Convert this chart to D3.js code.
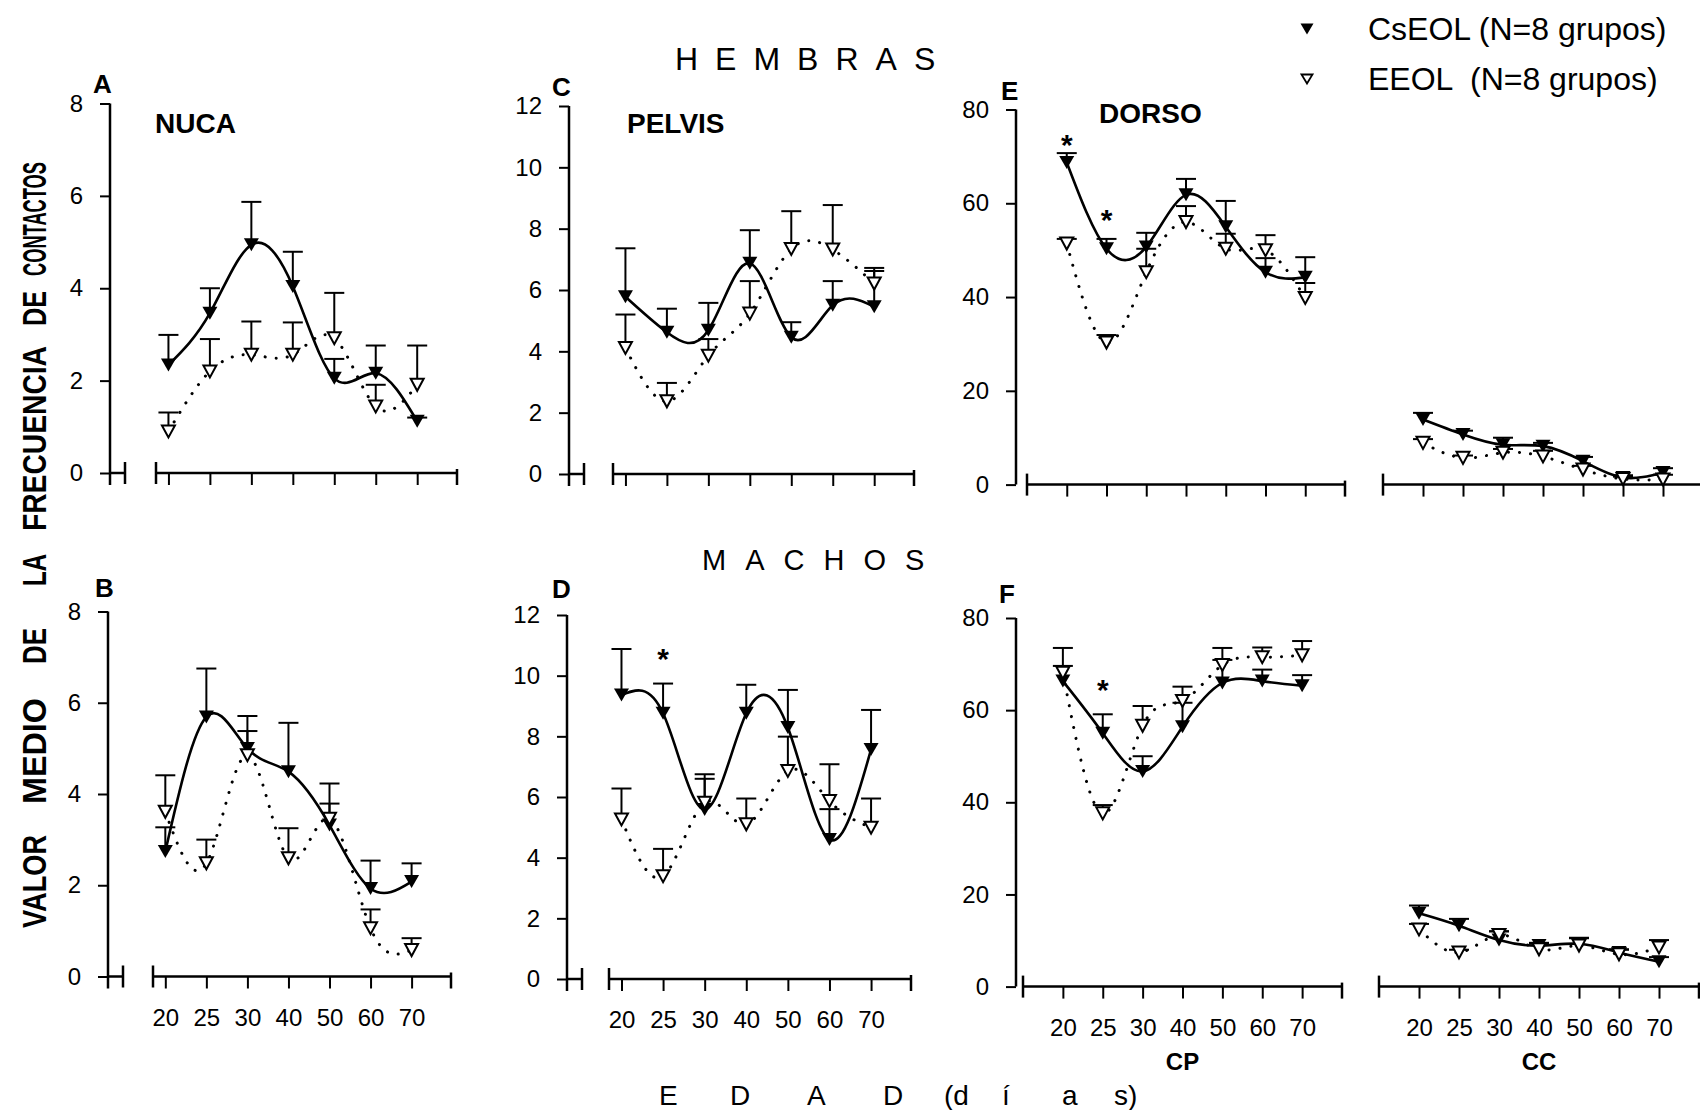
<!DOCTYPE html>
<html>
<head>
<meta charset="utf-8">
<script src="https://cdn.jsdelivr.net/npm/d3@7"></script>
<style>
  body { margin: 0; background: #fff; }
  svg { display: block; }
  text { font-family: "Liberation Sans", Arial, sans-serif; fill: #000; }
</style>
</head>
<body>
<svg id="chart" width="1700" height="1110"></svg>
<script>
// ---- categories and tick values ----
const ages = ["20", "25", "30", "40", "50", "60", "70"];
const ticksNuca = [0, 2, 4, 6, 8];
const ticksPelvis = [0, 2, 4, 6, 8, 10, 12];
const ticksDorso = [0, 20, 40, 60, 80];

// ---- HEMBRAS: means and SEM ----
const hNucaCs   = [2.34, 3.46, 4.94, 4.04, 2.05, 2.16, 1.12];
const hNucaCsSE = [0.65, 0.54, 0.93, 0.75, 0.42, 0.60, 0.08];
const hNucaEe   = [0.90, 2.20, 2.56, 2.56, 2.92, 1.44, 1.91];
const hNucaEeSE = [0.41, 0.70, 0.72, 0.70, 0.98, 0.47, 0.85];

const hPelvisCs   = [5.78, 4.62, 4.69, 6.87, 4.46, 5.50, 5.45];
const hPelvisCsSE = [1.58, 0.77, 0.89, 1.08, 0.49, 0.79, 1.17];
const hPelvisEe   = [4.11, 2.37, 3.86, 5.23, 7.34, 7.32, 6.21];
const hPelvisEeSE = [1.09, 0.60, 0.54, 1.06, 1.23, 1.45, 0.51];

const hDorsoCs   = [68.7, 50.3, 50.7, 61.8, 55.0, 45.3, 44.2];
const hDorsoCsSE = [2.0, 2.1, 3.0, 3.4, 5.5, 3.0, 4.3];
const hDorsoEe   = [51.4, 30.3, 45.3, 56.0, 50.3, 50.0, 39.8];
const hDorsoEeSE = [1.0, 1.6, 5.0, 3.4, 3.2, 3.2, 3.2];

const hDorsoCcCs   = [13.9, 10.7, 8.5, 8.2, 5.0, 1.5, 2.6];
const hDorsoCcCsSE = [1.4, 0.8, 1.5, 0.7, 0.9, 0.5, 0.9];
const hDorsoCcEe   = [8.9, 5.7, 6.8, 6.0, 3.2, 1.2, 1.1];
const hDorsoCcEeSE = [0.8, 0.5, 0.8, 1.2, 0.8, 0.5, 1.0];

// ---- MACHOS: means and SEM ----
const mNucaCs   = [2.74, 5.69, 5.00, 4.49, 3.32, 1.93, 2.08];
const mNucaCsSE = [0.53, 1.06, 0.71, 1.07, 0.91, 0.61, 0.40];
const mNucaEe   = [3.61, 2.48, 4.85, 2.59, 3.46, 1.06, 0.58];
const mNucaEeSE = [0.80, 0.52, 0.53, 0.66, 0.33, 0.41, 0.26];

const mPelvisCs   = [9.36, 8.76, 5.59, 8.76, 8.29, 4.60, 7.57];
const mPelvisCsSE = [1.52, 0.98, 1.16, 0.94, 1.24, 1.00, 1.30];
const mPelvisEe   = [5.26, 3.39, 5.81, 5.10, 6.86, 5.87, 4.99];
const mPelvisEeSE = [1.02, 0.90, 0.79, 0.85, 1.13, 1.21, 0.96];

const mDorsoCs   = [66.3, 55.0, 46.7, 56.4, 65.9, 66.3, 65.3];
const mDorsoCsSE = [3.3, 4.1, 3.3, 5.2, 5.0, 2.5, 2.3];
const mDorsoEe   = [68.1, 37.6, 56.6, 62.0, 69.8, 71.5, 71.9];
const mDorsoEeSE = [5.4, 1.8, 4.3, 3.1, 3.7, 2.1, 3.1];

const mDorsoCcCs   = [15.9, 13.2, 10.1, 8.9, 9.3, 7.4, 5.4];
const mDorsoCcCsSE = [1.7, 1.5, 1.9, 0.6, 1.3, 0.7, 1.0];
const mDorsoCcEe   = [12.4, 7.4, 11.2, 8.1, 8.9, 7.0, 8.5];
const mDorsoCcEeSE = [1.2, 0.6, 0.8, 1.2, 1.6, 1.0, 1.6];

// significance marks: [age index, level in data units]
const sigHDorso = [[0, 73.5], [1, 57.5]];
const sigMPelvis = [[1, 10.7]];
const sigMDorso = [[1, 65.4]];

// ---- legend and label texts ----
const legendLabels = ["CsEOL (N=8 grupos)", "EEOL  (N=8 grupos)"];
const yLabelWords = ["VALOR", "MEDIO", "DE", "LA", "FRECUENCIA", "DE", "CONTACTOS"];

// ---------------------------------------------------------------
const svg = d3.select("#chart");
const FONT = '"Liberation Sans", Arial, sans-serif';

const triDown = (w, h) => `M${-w / 2},${-h / 2}L${w / 2},${-h / 2}L0,${h / 2}Z`;

function drawPanel(p) {
  const g = svg.append("g");
  const y = d3.scaleLinear().domain([0, p.yMax]).range([p.y0, p.yTop]);
  const x = d3.scaleLinear().domain(p.dom).range([p.xs, p.xe]);
  const idx = d3.range(ages.length);

  // y axis
  if (p.yTicks) {
    const ay = g.append("g")
      .attr("transform", `translate(${p.ax},0)`)
      .call(d3.axisLeft(y).tickValues(p.yTicks).tickSize(10).tickPadding(17).tickSizeOuter(0))
      .attr("font-size", 24).attr("font-family", FONT);
    ay.select(".domain").remove();
    ay.selectAll(".tick line").attr("stroke-width", 2);
    g.append("line")
      .attr("x1", p.ax).attr("x2", p.ax)
      .attr("y1", y(p.yMax)).attr("y2", p.y0 + (p.brk ? 12 : 0))
      .attr("stroke", "#000").attr("stroke-width", 2.5);
    if (p.brk) {
      g.append("line").attr("x1", p.ax).attr("x2", p.ax + 15)
        .attr("y1", p.y0).attr("y2", p.y0).attr("stroke", "#000").attr("stroke-width", 2.5);
      g.append("line").attr("x1", p.ax + 15).attr("x2", p.ax + 15)
        .attr("y1", p.y0 - 11).attr("y2", p.y0 + 11).attr("stroke", "#000").attr("stroke-width", 2.5);
    }
  }

  // x axis
  const ax = g.append("g")
    .attr("transform", `translate(0,${p.y0})`)
    .call(d3.axisBottom(x).tickValues(idx).tickSize(12).tickPadding(20).tickSizeOuter(0)
      .tickFormat(i => (p.showX ? ages[i] : "")))
    .attr("font-size", 24).attr("font-family", FONT);
  ax.select(".domain").remove();
  ax.selectAll(".tick line").attr("stroke-width", 2);
  g.append("line").attr("x1", p.xs).attr("x2", p.xe).attr("y1", p.y0).attr("y2", p.y0)
    .attr("stroke", "#000").attr("stroke-width", 2.5);
  g.append("line").attr("x1", p.xs).attr("x2", p.xs).attr("y1", p.y0 - 11).attr("y2", p.y0 + 11)
    .attr("stroke", "#000").attr("stroke-width", 2.5);
  g.append("line").attr("x1", p.xe).attr("x2", p.xe).attr("y1", p.y0 - 4).attr("y2", p.y0 + 12)
    .attr("stroke", "#000").attr("stroke-width", 2.5);

  if (p.sub) {
    g.append("text").attr("x", x(3)).attr("y", p.y0 + 83)
      .attr("text-anchor", "middle").attr("font-size", 24).attr("font-weight", "bold").text(p.sub);
  }

  // smoothed mean curves
  const line = d3.line().x((d, i) => x(i)).y(d => y(d)).curve(d3.curveNatural);
  g.append("path").attr("d", line(p.ee)).attr("fill", "none").attr("stroke", "#000")
    .attr("stroke-width", 3).attr("stroke-linecap", "round").attr("stroke-dasharray", "0.1 11");
  g.append("path").attr("d", line(p.cs)).attr("fill", "none").attr("stroke", "#000")
    .attr("stroke-width", 2.6);

  // error bars (upper SEM)
  const bars = (vals, se) => {
    const eb = g.append("g").attr("stroke", "#000").attr("stroke-width", 2);
    eb.selectAll("line.v").data(vals).join("line").attr("class", "v")
      .attr("x1", (d, i) => x(i)).attr("x2", (d, i) => x(i))
      .attr("y1", d => y(d)).attr("y2", (d, i) => y(d + se[i]));
    eb.selectAll("line.c").data(vals).join("line").attr("class", "c")
      .attr("x1", (d, i) => x(i) - 10).attr("x2", (d, i) => x(i) + 10)
      .attr("y1", (d, i) => y(d + se[i])).attr("y2", (d, i) => y(d + se[i]));
  };
  bars(p.ee, p.eeSE);
  bars(p.cs, p.csSE);

  // markers
  g.selectAll("path.cs").data(p.cs).join("path").attr("class", "cs")
    .attr("d", triDown(15, 13))
    .attr("transform", (d, i) => `translate(${x(i)},${y(d)})`)
    .attr("fill", "#000");
  g.selectAll("path.ee").data(p.ee).join("path").attr("class", "ee")
    .attr("d", triDown(13, 12))
    .attr("transform", (d, i) => `translate(${x(i)},${y(d)})`)
    .attr("fill", "#fff").attr("stroke", "#000").attr("stroke-width", 2);

  // asterisks
  if (p.sig) {
    g.selectAll("text.sig").data(p.sig).join("text").attr("class", "sig")
      .attr("x", d => x(d[0])).attr("y", d => y(d[1]) + 15)
      .attr("text-anchor", "middle").attr("font-size", 30).attr("font-weight", "bold").text("*");
  }

  if (p.letter) {
    g.append("text").attr("x", p.letter[0]).attr("y", p.letter[1])
      .attr("font-size", 26).attr("font-weight", "bold").text(p.id);
  }
  if (p.title) {
    g.append("text").attr("x", p.title[1]).attr("y", p.title[2])
      .attr("font-size", 28).attr("font-weight", "bold").text(p.title[0]);
  }
}

const panels = [
  { id: "A", cs: hNucaCs, csSE: hNucaCsSE, ee: hNucaEe, eeSE: hNucaEeSE, yTicks: ticksNuca, yMax: 8,
    ax: 110, y0: 473, yTop: 103.5, xs: 156, xe: 457, dom: [-0.3, 6.96], brk: true,
    letter: [93, 93], title: ["NUCA", 155, 133] },
  { id: "C", cs: hPelvisCs, csSE: hPelvisCsSE, ee: hPelvisEe, eeSE: hPelvisEeSE, yTicks: ticksPelvis, yMax: 12,
    ax: 569, y0: 474, yTop: 106, xs: 613, xe: 914, dom: [-0.3, 6.96], brk: true,
    letter: [552, 96], title: ["PELVIS", 627, 133] },
  { id: "E", cs: hDorsoCs, csSE: hDorsoCsSE, ee: hDorsoEe, eeSE: hDorsoEeSE, yTicks: ticksDorso, yMax: 80,
    ax: 1016, y0: 484.6, yTop: 109.5, xs: 1027, xe: 1345, dom: [-1, 7], brk: false,
    sig: sigHDorso, letter: [1001, 100], title: ["DORSO", 1099, 123] },
  { id: "E2", cs: hDorsoCcCs, csSE: hDorsoCcCsSE, ee: hDorsoCcEe, eeSE: hDorsoCcEeSE, yMax: 80,
    y0: 484.6, yTop: 109.5, xs: 1383, xe: 1703, dom: [-1, 7] },
  { id: "B", cs: mNucaCs, csSE: mNucaCsSE, ee: mNucaEe, eeSE: mNucaEeSE, yTicks: ticksNuca, yMax: 8,
    ax: 108, y0: 976.5, yTop: 611.5, xs: 153, xe: 451, dom: [-0.3, 6.96], brk: true, showX: true,
    letter: [95, 597] },
  { id: "D", cs: mPelvisCs, csSE: mPelvisCsSE, ee: mPelvisEe, eeSE: mPelvisEeSE, yTicks: ticksPelvis, yMax: 12,
    ax: 567, y0: 979, yTop: 615, xs: 609, xe: 911, dom: [-0.3, 6.96], brk: true, showX: true,
    sig: sigMPelvis, letter: [552, 598] },
  { id: "F", cs: mDorsoCs, csSE: mDorsoCsSE, ee: mDorsoEe, eeSE: mDorsoEeSE, yTicks: ticksDorso, yMax: 80,
    ax: 1016, y0: 986.6, yTop: 618, xs: 1023, xe: 1342, dom: [-1, 7], brk: false, showX: true,
    sig: sigMDorso, letter: [999, 603], sub: "CP" },
  { id: "F2", cs: mDorsoCcCs, csSE: mDorsoCcCsSE, ee: mDorsoCcEe, eeSE: mDorsoCcEeSE, yMax: 80,
    y0: 986.6, yTop: 618, xs: 1379, xe: 1699, dom: [-1, 7], showX: true, sub: "CC" }
];
panels.forEach(drawPanel);

// ---- group headings ----
svg.append("text").attr("x", 675).attr("y", 70).attr("font-size", 32)
  .attr("letter-spacing", 17).text("HEMBRAS");
svg.append("text").attr("x", 702).attr("y", 570).attr("font-size", 29)
  .attr("letter-spacing", 19).text("MACHOS");

// ---- x axis title, letter-spaced ----
const edad = [["E", 659], ["D", 730], ["A", 807], ["D", 883], ["(d", 944], ["í", 1002], ["a", 1062], ["s)", 1114]];
svg.append("g").selectAll("text").data(edad).join("text")
  .attr("x", d => d[1]).attr("y", 1105).attr("font-size", 28).text(d => d[0]);

// ---- y axis title, one word at a time ----
const yWordSpan = [[835, 928], [698, 804], [628, 664], [554, 586], [346, 531], [291, 326], [162, 276]];
svg.append("g").selectAll("text").data(yLabelWords).join("text")
  .attr("transform", (d, i) => `translate(46,${yWordSpan[i][1]}) rotate(-90)`)
  .attr("font-size", 34).attr("font-weight", "bold")
  .attr("textLength", (d, i) => yWordSpan[i][1] - yWordSpan[i][0])
  .attr("lengthAdjust", "spacingAndGlyphs")
  .text(d => d);

// ---- legend ----
const lg = svg.append("g");
lg.append("path").attr("d", triDown(13, 11)).attr("transform", "translate(1307,29)").attr("fill", "#000");
lg.append("path").attr("d", triDown(11, 9)).attr("transform", "translate(1307,79)")
  .attr("fill", "#fff").attr("stroke", "#000").attr("stroke-width", 1.8);
lg.selectAll("text").data(legendLabels).join("text")
  .attr("x", 1368).attr("y", (d, i) => 40 + i * 50)
  .attr("font-size", 32).style("white-space", "pre").text(d => d);
</script>
</body>
</html>
